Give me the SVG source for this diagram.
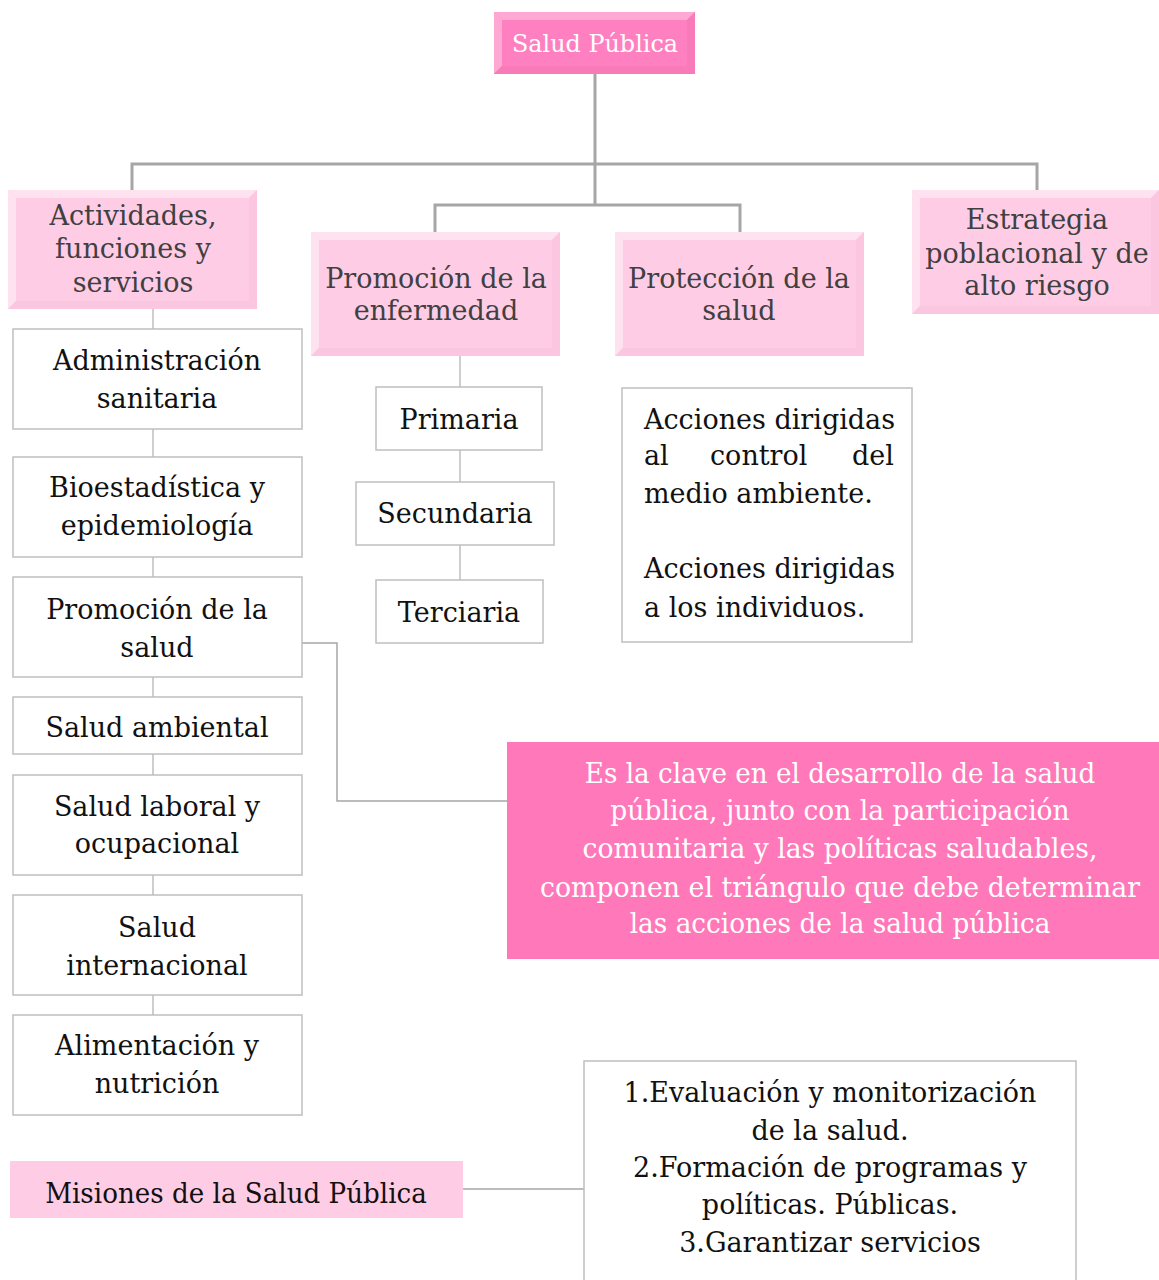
<svg xmlns="http://www.w3.org/2000/svg" width="1159" height="1280" viewBox="0 0 1159 1280">
  <style>
    .t { font-family: "DejaVu Serif", "Liberation Serif", serif; font-size: 27px; text-anchor: middle; }
    .dark { fill: #404040; }
    .black { fill: #111111; }
    .white { fill: #ffffff; }
    .plain { fill: #ffffff; stroke: #bfbfbf; stroke-width: 1.5; }
    .trunk { fill: none; stroke: #a6a6a6; stroke-width: 3; }
    .thin { fill: none; stroke: #bfbfbf; stroke-width: 1.5; }
    .link { fill: none; stroke: #a6a6a6; stroke-width: 1.5; }
    .hot { fill: #ff80c0; }
    .hotHi { fill: #ffa8d3; }
    .hotLo { fill: #f87ab9; }
    .soft { fill: #ffcce6; }
    .softHi { fill: #ffe2f0; }
    .softLo { fill: #fbc6e0; }
    .solid { fill: #ff78b9; }
  </style>

  <!-- connectors -->
  <g id="connectors">
    <path class="trunk" d="M595 74 V205 M132 190 V164 H1037 V190 M435 233 V205 H740 V233"/>
    <path class="thin" d="M153 309 V329 M153 429 V457 M153 557 V577 M153 677 V697 M153 754 V775 M153 875 V895 M153 995 V1015"/>
    <path class="thin" d="M460 356 V387 M460 450 V482 M460 545 V580"/>
    <path class="link" d="M302 643 H337 V801 H507"/>
    <path class="link" d="M463 1189 H584"/>
  </g>

  <!-- root -->
  <g id="salud-publica">
    <rect class="hot" x="494" y="12" width="201" height="62"/>
    <polygon class="hotHi" points="494,12 695,12 687,20 502,20"/>
    <polygon class="hotHi" points="494,12 502,20 502,66 494,74"/>
    <polygon class="hotLo" points="695,12 695,74 687,66 687,20"/>
    <polygon class="hotLo" points="494,74 695,74 687,66 502,66"/>
    <text class="t white" style="font-size:25px" x="595" y="52" textLength="166" lengthAdjust="spacingAndGlyphs">Salud Pública</text>
  </g>

  <!-- second level -->
  <g id="actividades">
    <rect class="soft" x="8" y="190" width="249" height="119"/>
    <polygon class="softHi" points="8,190 257,190 249,198 16,198"/>
    <polygon class="softHi" points="8,190 16,198 16,301 8,309"/>
    <polygon class="softLo" points="257,190 257,309 249,301 249,198"/>
    <polygon class="softLo" points="8,309 257,309 249,301 16,301"/>
    <text class="t dark" x="133" y="225">Actividades,</text>
    <text class="t dark" x="133" y="258">funciones y</text>
    <text class="t dark" x="133" y="292">servicios</text>
  </g>

  <g id="promocion-enfermedad">
    <rect class="soft" x="311" y="232" width="249" height="124"/>
    <polygon class="softHi" points="311,232 560,232 552,240 319,240"/>
    <polygon class="softHi" points="311,232 319,240 319,348 311,356"/>
    <polygon class="softLo" points="560,232 560,356 552,348 552,240"/>
    <polygon class="softLo" points="311,356 560,356 552,348 319,348"/>
    <text class="t dark" x="436" y="288">Promoción de la</text>
    <text class="t dark" x="436" y="320">enfermedad</text>
  </g>

  <g id="proteccion-salud">
    <rect class="soft" x="615" y="232" width="249" height="124"/>
    <polygon class="softHi" points="615,232 864,232 856,240 623,240"/>
    <polygon class="softHi" points="615,232 623,240 623,348 615,356"/>
    <polygon class="softLo" points="864,232 864,356 856,348 856,240"/>
    <polygon class="softLo" points="615,356 864,356 856,348 623,348"/>
    <text class="t dark" x="739" y="288">Protección de la</text>
    <text class="t dark" x="739" y="320">salud</text>
  </g>

  <g id="estrategia">
    <rect class="soft" x="912" y="190" width="247" height="124"/>
    <polygon class="softHi" points="912,190 1159,190 1151,198 920,198"/>
    <polygon class="softHi" points="912,190 920,198 920,306 912,314"/>
    <polygon class="softLo" points="1159,190 1159,314 1151,306 1151,198"/>
    <polygon class="softLo" points="912,314 1159,314 1151,306 920,306"/>
    <text class="t dark" x="1037" y="229">Estrategia</text>
    <text class="t dark" x="1037" y="263">poblacional y de</text>
    <text class="t dark" x="1037" y="295">alto riesgo</text>
  </g>

  <!-- activities column -->
  <g id="administracion">
    <rect class="plain" x="13" y="329" width="289" height="100"/>
    <text class="t black" x="157" y="370">Administración</text>
    <text class="t black" x="157" y="408">sanitaria</text>
  </g>
  <g id="bioestadistica">
    <rect class="plain" x="13" y="457" width="289" height="100"/>
    <text class="t black" x="157" y="497">Bioestadística y</text>
    <text class="t black" x="157" y="535">epidemiología</text>
  </g>
  <g id="promocion-salud">
    <rect class="plain" x="13" y="577" width="289" height="100"/>
    <text class="t black" x="157" y="619">Promoción de la</text>
    <text class="t black" x="157" y="657">salud</text>
  </g>
  <g id="salud-ambiental">
    <rect class="plain" x="13" y="697" width="289" height="57"/>
    <text class="t black" x="157" y="737">Salud ambiental</text>
  </g>
  <g id="salud-laboral">
    <rect class="plain" x="13" y="775" width="289" height="100"/>
    <text class="t black" x="157" y="816">Salud laboral y</text>
    <text class="t black" x="157" y="853">ocupacional</text>
  </g>
  <g id="salud-internacional">
    <rect class="plain" x="13" y="895" width="289" height="100"/>
    <text class="t black" x="157" y="937">Salud</text>
    <text class="t black" x="157" y="975">internacional</text>
  </g>
  <g id="alimentacion">
    <rect class="plain" x="13" y="1015" width="289" height="100"/>
    <text class="t black" x="157" y="1055">Alimentación y</text>
    <text class="t black" x="157" y="1093">nutrición</text>
  </g>

  <!-- prevention levels -->
  <g id="primaria">
    <rect class="plain" x="376" y="387" width="166" height="63"/>
    <text class="t black" x="459" y="429">Primaria</text>
  </g>
  <g id="secundaria">
    <rect class="plain" x="356" y="482" width="198" height="63"/>
    <text class="t black" x="455" y="523">Secundaria</text>
  </g>
  <g id="terciaria">
    <rect class="plain" x="376" y="580" width="167" height="63"/>
    <text class="t black" x="459" y="622">Terciaria</text>
  </g>

  <!-- protection actions -->
  <g id="acciones">
    <rect class="plain" x="622" y="388" width="290" height="254"/>
    <text class="t black" style="text-anchor:start">
      <tspan x="644" y="429">Acciones dirigidas</tspan>
      <tspan x="644" y="465">al</tspan><tspan x="710" y="465">control</tspan><tspan x="852" y="465">del</tspan>
      <tspan x="644" y="503">medio ambiente.</tspan>
      <tspan x="644" y="578">Acciones dirigidas</tspan>
      <tspan x="644" y="617">a los individuos.</tspan>
    </text>
  </g>

  <!-- key note: condensed lines, scaled horizontally about the box centre -->
  <g id="clave">
    <rect class="solid" x="507" y="742" width="652" height="217"/>
    <g class="t white" style="font-size:28px" transform="translate(840 0) scale(0.88 1)">
      <text x="0" y="783" textLength="580" lengthAdjust="spacingAndGlyphs">Es la clave en el desarrollo de la salud</text>
      <text x="0" y="820" textLength="522" lengthAdjust="spacingAndGlyphs">pública, junto con la participación</text>
      <text x="0" y="858" textLength="585" lengthAdjust="spacingAndGlyphs">comunitaria y las políticas saludables,</text>
      <text x="0" y="897" textLength="682" lengthAdjust="spacingAndGlyphs">componen el triángulo que debe determinar</text>
      <text x="0" y="933" textLength="478" lengthAdjust="spacingAndGlyphs">las acciones de la salud pública</text>
    </g>
  </g>

  <!-- missions -->
  <g id="misiones">
    <rect class="soft" x="10" y="1161" width="453" height="57"/>
    <g transform="translate(236 0) scale(0.9 1)">
      <text class="t black" style="font-size:28px" x="0" y="1203" textLength="424" lengthAdjust="spacingAndGlyphs">Misiones de la Salud Pública</text>
    </g>
  </g>

  <g id="lista-misiones">
    <rect class="plain" x="584" y="1061" width="492" height="240"/>
    <text class="t black" x="830" y="1102">1.Evaluación y monitorización</text>
    <text class="t black" x="830" y="1140">de la salud.</text>
    <text class="t black" x="830" y="1177">2.Formación de programas y</text>
    <text class="t black" x="830" y="1214">políticas. Públicas.</text>
    <text class="t black" x="830" y="1252">3.Garantizar servicios</text>
  </g>
</svg>
